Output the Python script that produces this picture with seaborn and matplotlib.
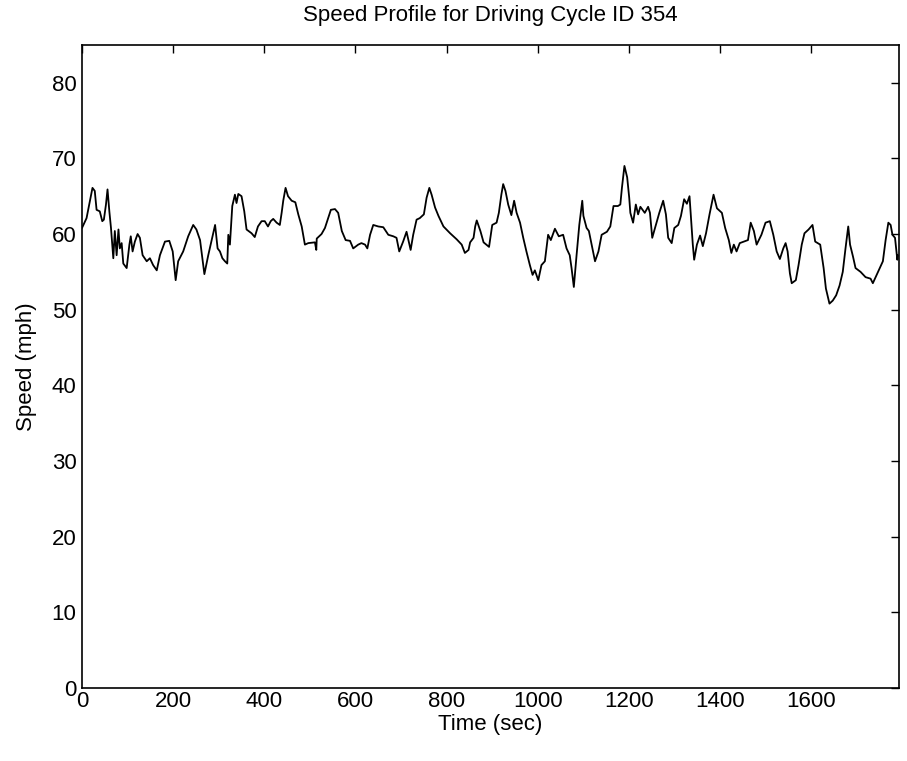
import matplotlib
matplotlib.use("Agg")
import matplotlib.pyplot as plt
import seaborn as sns
import pandas as pd

time_sec = [
    0, 10, 17.5, 23, 28, 32, 39, 44.5, 48, 52.6, 56, 60, 63.6, 68.7, 72, 76, 80, 83, 87, 90.6,
    98, 104, 107, 111, 116, 122, 127, 133, 142, 149, 156, 164, 171, 182, 191.5, 199, 205.5, 211,
    222, 233, 244, 251, 259, 265, 268.5, 277, 284.6, 292, 297.5, 302.6, 308, 313.6, 318.7, 321,
    324.5, 329.7, 335.5, 339, 342.9, 350, 356, 361, 372, 379, 386, 394, 401, 408, 414, 419.5,
    427, 434, 438, 441.5, 446.6, 452, 460, 468, 474.5, 482, 489, 496.4, 511, 514, 515, 525.5,
    533, 540, 546, 555, 562, 570, 578.4, 588, 595, 606, 613, 621, 626, 632, 639, 650, 661, 672,
    683, 690, 696, 704.5, 712, 721, 726.6, 734, 741, 750, 756, 762, 767, 774.6, 782, 793, 807.6,
    822, 833, 840, 848, 851.5, 859, 862.6, 866, 874, 881, 893, 900, 909.5, 914.5, 920, 924, 929,
    935, 942, 948, 953.5, 961, 968, 975, 982.5, 988.5, 993.5, 1001, 1008, 1015.5, 1022.6,
    1028.5, 1037.5, 1046, 1055.5, 1063, 1070, 1074, 1079, 1085, 1091, 1097.5, 1100, 1107, 1112,
    1118, 1125.5, 1133, 1140, 1151.6, 1159, 1166, 1175.6, 1181, 1184.5, 1190, 1196, 1200.5,
    1203, 1209, 1215, 1220, 1225, 1234.6, 1242, 1246, 1251, 1259, 1266.5, 1275, 1281, 1286,
    1293.7, 1299.5, 1308, 1314, 1321, 1327, 1332.8, 1336.5, 1340, 1343, 1349, 1356, 1362, 1369,
    1376.7, 1385.5, 1393, 1403.8, 1411, 1419, 1424.6, 1430, 1436, 1443, 1452, 1461, 1467, 1474,
    1480, 1490.5, 1499.5, 1509, 1516.6, 1524, 1531, 1538.5, 1543.6, 1548, 1553, 1557, 1566,
    1572, 1579, 1585, 1594, 1602.6, 1608.5, 1619.5, 1627, 1632, 1639.8, 1647, 1654.5, 1662,
    1669, 1675, 1681, 1685, 1691.5, 1697, 1708, 1719, 1730, 1735, 1741, 1750, 1757, 1763, 1769,
    1774, 1778, 1783.6, 1788.7, 1790,
]
speed_mph = [
    60.8, 62.1, 64.4, 66.1, 65.7, 63.2, 63.0, 61.7, 61.9, 63.9, 65.9, 63.0, 60.8, 56.8, 60.4, 57.2, 60.6, 58.1, 58.8, 56.1,
    55.5, 58.6, 59.7, 57.7, 59.0, 60.0, 59.5, 57.2, 56.4, 56.8, 55.9, 55.2, 57.2, 59.0, 59.1, 57.7, 53.9, 56.4,
    57.7, 59.7, 61.2, 60.6, 59.2, 56.4, 54.7, 57.2, 59.2, 61.2, 58.1, 57.7, 56.8, 56.4, 56.1, 59.9,
    58.6, 63.7, 65.2, 64.1, 65.3, 65.0, 63.0, 60.6, 60.1, 59.6, 61.0, 61.7, 61.7, 61.0, 61.7, 62.0,
    61.5, 61.2, 62.8, 64.4, 66.1, 65.0, 64.4, 64.2, 62.6, 61.0, 58.6, 58.8, 58.9, 57.9, 59.4, 60.0,
    60.8, 62.1, 63.2, 63.3, 62.8, 60.4, 59.2, 59.1, 58.1, 58.6, 58.8, 58.6, 58.1, 59.9, 61.2, 61.0, 60.9, 59.9,
    59.7, 59.5, 57.7, 59.0, 60.3, 57.9, 59.9, 61.9, 62.1, 62.6, 64.8, 66.1, 65.2, 63.5, 62.4, 61.0, 60.1,
    59.3, 58.6, 57.5, 57.9, 58.9, 59.5, 61.0, 61.8, 60.4, 58.9, 58.3, 61.2, 61.5, 62.8, 65.2, 66.6, 65.7,
    63.9, 62.5, 64.4, 62.8, 61.5, 59.5, 57.7, 55.9, 54.6, 55.2, 53.9, 55.9, 56.4, 59.9,
    59.2, 60.7, 59.7, 59.9, 58.1, 57.2, 55.5, 53.0, 57.2, 61.2, 64.4, 62.4, 60.8, 60.4,
    58.6, 56.4, 57.7, 59.9, 60.3, 61.0, 63.7, 63.7, 63.9, 66.1, 69.0, 67.5, 64.8,
    62.8, 61.5, 63.9, 62.6, 63.6, 62.8, 63.6, 62.8, 59.5, 61.2, 62.8, 64.4, 62.6, 59.5,
    58.8, 60.8, 61.2, 62.4, 64.6, 64.0, 65.0, 61.7, 58.6, 56.6, 58.6, 59.8, 58.4, 60.1,
    62.6, 65.2, 63.4, 62.8, 60.8, 59.2, 57.5, 58.6, 57.7, 58.8, 59.0, 59.2, 61.5, 60.4,
    58.6, 59.9, 61.5, 61.7, 59.9, 57.7, 56.7, 58.1, 58.8, 57.7, 54.8, 53.5, 53.9,
    55.9, 58.6, 60.1, 60.6, 61.2, 59.0, 58.6, 55.5, 52.8, 50.8, 51.2, 51.9, 53.2,
    55.0, 58.1, 61.0, 58.6, 57.0, 55.5, 55.0, 54.3, 54.1, 53.5, 54.3, 55.5, 56.4, 59.2, 61.5,
    61.2, 59.9, 59.5, 56.6, 57.2,
]
x_ticks = [0, 200, 400, 600, 800, 1000, 1200, 1400, 1600]
y_ticks = [0, 10, 20, 30, 40, 50, 60, 70, 80]

df = pd.DataFrame({"time": time_sec, "speed": speed_mph})

sns.set_style("white")
plt.rcParams["font.family"] = ["Liberation Sans", "DejaVu Sans"]
plt.rcParams["text.color"] = "black"
plt.rcParams["axes.labelcolor"] = "black"

fig = plt.figure(figsize=(9.07, 7.61), dpi=100)
ax = fig.add_axes([0.0904, 0.096, 0.9006, 0.845])
sns.lineplot(data=df, x="time", y="speed", ax=ax, color="black", linewidth=1.3,
             estimator=None, sort=False)

ax.set_xlim(0, 1792)
ax.set_ylim(0, 85)
ax.set_xticks(x_ticks)
ax.set_yticks(y_ticks)
ax.tick_params(direction="in", length=6, width=1, top=True, right=True,
               labelsize=16, colors="black")
ax.tick_params(axis="x", pad=2.5)
ax.tick_params(axis="y", pad=4)
for s in ax.spines.values():
    s.set_color("black")
    s.set_linewidth(1.2)
    s.set_visible(True)
ax.set_xlabel("Time (sec)", fontsize=16, labelpad=1, color="black")
ax.set_ylabel("Speed (mph)", fontsize=16, labelpad=10.5, color="black")
ax.set_title("Speed Profile for Driving Cycle ID 354", fontsize=16, pad=17, color="black")

fig.savefig("out.png", dpi=100)
